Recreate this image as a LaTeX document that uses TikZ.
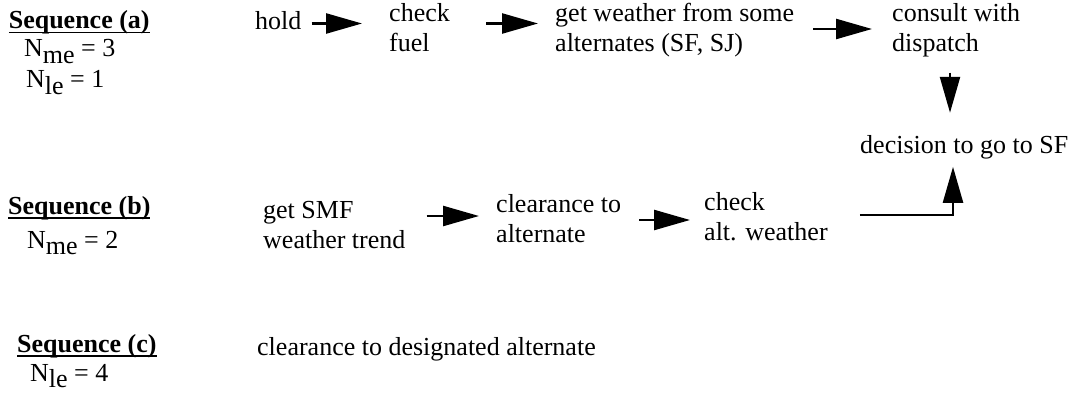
\documentclass[tikz,border=0pt]{standalone}
\usepackage{fontspec}
\setmainfont{Liberation Serif}
\usetikzlibrary{arrows.meta,calc}
\newcommand\ulbox[1]{\setbox0\hbox{#1}\rlap{\rule[-4.5pt]{\wd0}{1.6pt}}\box0}
\newcommand\lowsub[1]{\raisebox{-6.5pt}{#1}}
\begin{document}
\begin{tikzpicture}[x=1pt,y=-1pt,
  lbl/.style={inner sep=0pt, anchor=base west, align=left, font=\fontsize{26}{30}\selectfont},
  arr/.style={line width=2.4pt, -{Triangle[length=36pt,width=20pt]}},
  ln/.style={line width=2.4pt}]
\useasboundingbox (0,0) rectangle (1075,393);

% row (a)  (multi-line nodes: base anchor = last line's baseline)
\node[lbl] (seqa) at (8.6,29) {\bfseries\ulbox{Sequence (a)}};
\node[lbl] (nmea) at (24,57) {N\lowsub{me} = 3};
\node[lbl] (nlea) at (26,88) {N\lowsub{le} = 1};
\node[lbl] (hold) at (255,30) {hold};
\node[lbl] (fuel) at (389,52) {check\\fuel};
\node[lbl] (wx) at (555,52) {get weather from some\\alternates (SF, SJ)};
\node[lbl] (disp) at (892,52) {consult with\\dispatch};
\node[lbl] (dec) at (860,153) {decision to go to SF};

% row (b)
\node[lbl] (seqb) at (8,214) {\bfseries\ulbox{Sequence (b)}};
\node[lbl] (nmeb) at (27,248) {N\lowsub{me} = 2};
\node[lbl] (smf) at (263,248) {get SMF\\weather trend};
\node[lbl] (clr) at (496,242) {clearance to\\alternate};
\node[lbl] (altwx) at (704,240) {check\\alt. weather};

% row (c)
\node[lbl] (seqc) at (17,352) {\bfseries\ulbox{Sequence (c)}};
\node[lbl] (nlec) at (30,381) {N\lowsub{le} = 4};
\node[lbl] (desig) at (257,355) {clearance to designated alternate};

% helper levels
\coordinate (ya) at (0,23.5);
\coordinate (yc) at (0,29);
\coordinate (yb1) at (0,216);
\coordinate (yb2) at (0,220);
\coordinate (yb3) at (0,215);
\coordinate (xd) at (950,0);
\coordinate (xu) at (953,0);

% connectors
\draw[arr, shorten <=10pt, shorten >=27pt] (hold.east |- ya) -- (fuel.west |- ya);
\draw[arr, shorten <=36pt, shorten >=17pt] (fuel.east |- ya) -- (wx.west |- ya);
\draw[arr, shorten <=19pt, shorten >=20pt] (wx.east |- yc) -- (disp.west |- yc);
\draw[arr, shorten <=15pt, shorten >=22pt] (disp.south -| xd) -- (dec.north -| xd);
\draw[arr, shorten <=21pt, shorten >=17pt] (smf.east |- yb1) -- (clr.west |- yb1);
\draw[arr, shorten <=18pt, shorten >=14pt] (clr.east |- yb2) -- (altwx.west |- yb2);
\draw[arr, shorten <=32pt, shorten >=8pt] (altwx.east |- yb3) -- (xu |- yb3) -- (dec.south -| xu);
\end{tikzpicture}
\end{document}
